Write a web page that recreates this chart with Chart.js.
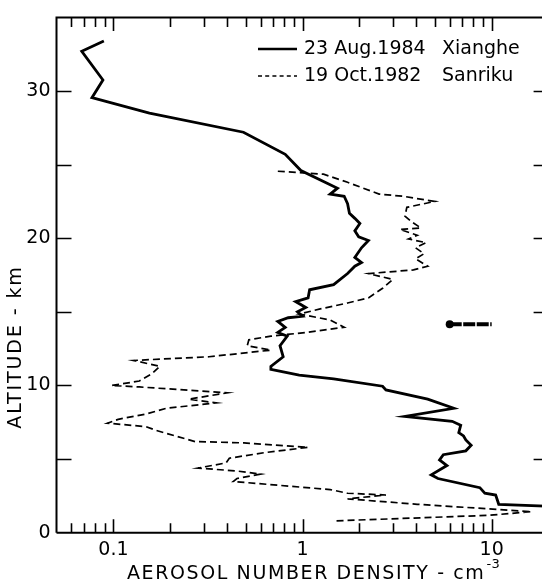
<!DOCTYPE html>
<html><head><meta charset="utf-8">
<script src="https://cdn.jsdelivr.net/npm/chart.js@4.4.1/dist/chart.umd.min.js"></script>
<style>
html,body{margin:0;padding:0;overflow:hidden;background:#fff}
#wrap{width:542px;height:583px;overflow:hidden;position:relative;background:#fff}
#c{position:absolute;left:0;top:0}
</style></head>
<body><div id="wrap"><canvas id="c" width="560" height="583"></canvas></div>
<script>
// ---- data ----
const seriesNames = ['23 Aug.1984', '19 Oct.1982'];
const stationNames = ['Xianghe', 'Sanriku'];
const xiangheDensity = [0.089,0.068,0.088,0.077,0.155,0.487,0.81,0.98,1.53,1.40,1.66,1.73,1.77,1.89,2.01,1.89,1.98,2.23,2.05,1.89,2.05,1.89,1.73,1.46,1.09,1.07,0.92,1.04,0.94,1.0,0.84,0.74,0.81,0.74,0.83,0.76,0.79,0.68,0.68,0.96,1.46,2.65,2.76,4.59,6.3,3.48,6.18,6.86,6.7,7.1,7.3,7.79,7.3,5.55,5.3,5.8,4.79,5.2,8.66,9.2,10.5,10.9,19.2,30];
const xiangheAltitude = [33.4,32.7,30.75,29.55,28.5,27.2,25.7,24.6,23.4,23.0,22.85,22.35,21.7,21.35,21.0,20.5,20.1,19.85,19.35,18.7,18.35,18.1,17.6,16.85,16.5,15.95,15.7,15.3,15.0,14.7,14.6,14.35,13.95,13.6,13.35,12.7,11.95,11.3,11.1,10.7,10.45,9.95,9.7,9.07,8.45,7.9,7.57,7.3,6.8,6.57,6.3,5.94,5.56,5.3,4.94,4.56,3.93,3.68,3.06,2.68,2.56,1.93,1.8,1.7];
const sanrikuDensity = [0.74,1.29,1.73,2.54,3.4,5.0,3.56,3.48,3.79,4.22,3.27,4.04,3.63,4.5,3.96,4.39,3.96,4.59,3.86,2.23,3.0,2.65,2.23,1.73,1.24,0.96,1.40,1.66,1.04,0.68,0.52,0.51,0.68,0.32,0.128,0.176,0.16,0.137,0.0975,0.137,0.40,0.25,0.35,0.19,0.15,0.106,0.093,0.149,0.169,0.27,0.49,1.07,0.63,0.41,0.394,0.28,0.45,0.60,0.45,0.43,1.40,1.73,2.76,1.73,4.04,16.3,9.64,1.46];
const sanrikuAltitude = [24.55,24.35,23.8,23.0,22.85,22.5,22.1,21.5,21.1,20.7,20.6,20.2,19.95,19.7,19.35,18.95,18.6,18.1,17.85,17.6,17.2,16.6,15.95,15.6,15.2,14.85,14.45,13.95,13.6,13.35,13.1,12.7,12.4,11.95,11.7,11.3,10.8,10.3,10.0,9.9,9.5,9.07,8.82,8.45,8.07,7.7,7.44,7.2,6.94,6.19,6.1,5.8,5.44,5.06,4.74,4.39,4.19,3.98,3.68,3.48,2.93,2.68,2.56,2.3,1.93,1.43,1.18,0.8];
const markerDensity = [6.0, 10.0];
const markerAltitude = [14.15, 14.15];
const xLabelValues = [0.1, 1, 10];
const yLabelValues = [0, 10, 20, 30];
const xMinorTicks = [0.06,0.07,0.08,0.09,0.2,0.3,0.4,0.5,0.6,0.7,0.8,0.9,2,3,4,5,6,7,8,9];
const xMajorTicks = [0.1, 1, 10];
const yTicks = [5,10,15,20,25,30];
const xTitle = 'AEROSOL NUMBER DENSITY - cm';
const xTitleSup = '-3';
const yTitle = 'ALTITUDE - km';

const zip = (xs, ys) => xs.map((v, i) => ({x: v, y: ys[i]}));
const FONT = '"DejaVu Sans", sans-serif';

const decor = {
  id: 'decor',
  afterDraw(chart) {
    const ctx = chart.ctx, a = chart.chartArea;
    const xs = chart.scales.x, ys = chart.scales.y;
    ctx.save();
    ctx.strokeStyle = '#000';
    ctx.lineWidth = 2;
    ctx.lineCap = 'butt';
    ctx.beginPath();
    ctx.moveTo(a.left, a.bottom); ctx.lineTo(a.left, a.top); ctx.lineTo(a.right, a.top); ctx.lineTo(a.right, a.bottom); ctx.lineTo(a.left, a.bottom);
    ctx.stroke();
    ctx.lineWidth = 1.6;
    ctx.beginPath();
    const xt = (v, len) => {
      const px = Math.round(xs.getPixelForValue(v)) + 0.5;
      ctx.moveTo(px, a.top); ctx.lineTo(px, a.top + len);
      ctx.moveTo(px, a.bottom); ctx.lineTo(px, a.bottom - len);
    };
    xMinorTicks.forEach(v => xt(v, 9.5));
    xMajorTicks.forEach(v => xt(v, 13.5));
    yTicks.forEach(v => {
      const py = Math.round(ys.getPixelForValue(v)) + 0.5;
      ctx.moveTo(a.left, py); ctx.lineTo(a.left + 15, py);
      ctx.moveTo(a.right, py); ctx.lineTo(a.right - 15, py);
    });
    ctx.stroke();

    // legend
    ctx.fillStyle = '#000';
    ctx.font = '19px ' + FONT;
    ctx.textBaseline = 'middle';
    ctx.textAlign = 'left';
    const rows = [49, 76];
    ctx.lineWidth = 2.6; ctx.setLineDash([]);
    ctx.beginPath(); ctx.moveTo(258, rows[0]); ctx.lineTo(297, rows[0]); ctx.stroke();
    ctx.lineWidth = 1.3; ctx.setLineDash([4, 3.2]);
    ctx.beginPath(); ctx.moveTo(258, rows[1]); ctx.lineTo(297, rows[1]); ctx.stroke();
    ctx.setLineDash([]);
    rows.forEach((ry, i) => {
      ctx.fillText(seriesNames[i], 304, ry);
      ctx.fillText(stationNames[i], 442, ry);
    });

    // axis titles
    ctx.font = '19px ' + FONT;
    ctx.letterSpacing = '1.6px';
    ctx.textAlign = 'left';
    ctx.textBaseline = 'middle';
    const w = ctx.measureText(xTitle).width;
    const x0 = 127, ty = 574;
    ctx.fillText(xTitle, x0, ty);
    ctx.font = '13px ' + FONT;
    ctx.letterSpacing = '0.5px';
    ctx.fillText(xTitleSup, x0 + w + 1, ty - 9);
    ctx.font = '19px ' + FONT;
    ctx.letterSpacing = '1.9px';
    ctx.save();
    ctx.translate(16, 347);
    ctx.rotate(-Math.PI / 2);
    ctx.textAlign = 'center';
    ctx.fillText(yTitle, 0, 0);
    ctx.restore();
    ctx.restore();
  }
};

new Chart(document.getElementById('c'), {
  type: 'line',
  data: {
    datasets: [
      {label: seriesNames[0] + ' ' + stationNames[0], data: zip(xiangheDensity, xiangheAltitude),
       borderColor: '#000', borderWidth: 2.8, pointRadius: 0, tension: 0, fill: false},
      {label: seriesNames[1] + ' ' + stationNames[1], data: zip(sanrikuDensity, sanrikuAltitude),
       borderColor: '#000', borderWidth: 1.7, borderDash: [7, 4], pointRadius: 0, tension: 0, fill: false},
      {label: 'marker', data: zip(markerDensity, markerAltitude),
       borderColor: '#000', backgroundColor: '#000', borderWidth: 4, borderDash: [12, 1.5],
       pointRadius: [4, 0], pointBorderWidth: 0, tension: 0, fill: false}
    ]
  },
  options: {
    responsive: false,
    animation: false,
    devicePixelRatio: 1,
    layout: {padding: {left: 0, right: 11.4, top: 13.5, bottom: 0}},
    plugins: {legend: {display: false}, tooltip: {enabled: false}},
    scales: {
      x: {
        type: 'logarithmic', min: 0.05, max: 20,
        grid: {display: false, drawTicks: false},
        border: {display: false},
        afterBuildTicks: s => { s.ticks = xLabelValues.map(v => ({value: v})); },
        afterFit: s => { s.height = 50.3; },
        ticks: {color: '#000', font: {family: 'DejaVu Sans', size: 19}, padding: 6,
                maxRotation: 0, autoSkip: false, callback: v => String(v)}
      },
      y: {
        type: 'linear', min: 0, max: 35,
        grid: {display: false, drawTicks: false},
        border: {display: false},
        afterBuildTicks: s => { s.ticks = yLabelValues.map(v => ({value: v})); },
        afterFit: s => { s.width = 56.5; },
        ticks: {color: '#000', font: {family: 'DejaVu Sans', size: 19}, padding: 6, callback: v => String(v)}
      }
    }
  },
  plugins: [decor]
});
</script>
</body></html>
